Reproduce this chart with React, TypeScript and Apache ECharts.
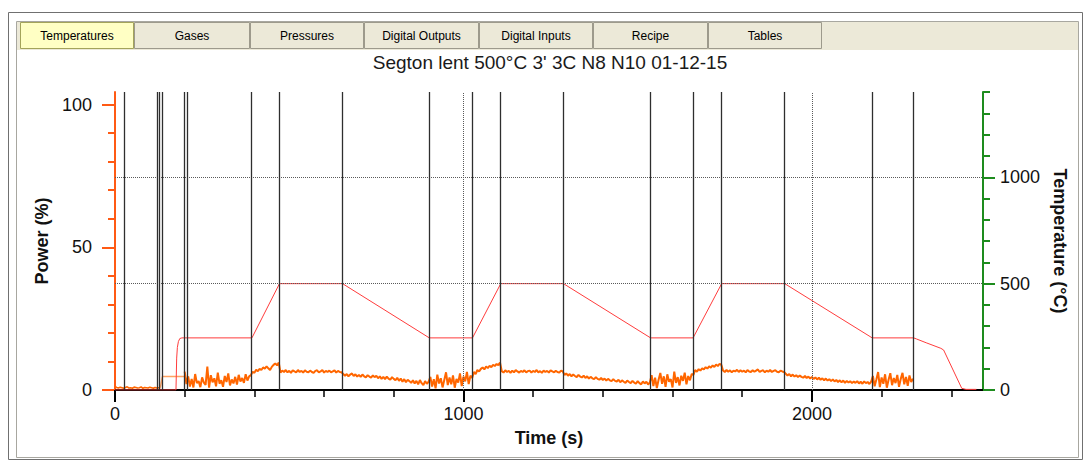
import React, { useEffect, useRef } from 'react';
import * as echarts from 'echarts';

const FONT = 'Liberation Sans, Arial, sans-serif';

const tabNames = ['Temperatures', 'Gases', 'Pressures', 'Digital Outputs', 'Digital Inputs', 'Recipe', 'Tables'];
const tabEdges = [20, 134, 250, 364, 479, 593, 708, 822];
const chartTitle = "Segton lent 500°C 3' 3C N8 N10 01-12-15";

const timeTicks = [0, 1000, 2000];
const powerTicks = [0, 50, 100];
const tempTicks = [0, 500, 1000];
const timeGridLines = [1000, 2000];
const tempGridLines = [500, 1000];

// vertical event markers (s)
const eventTimes = [27, 121, 126, 136, 200, 207, 390, 472, 653, 902, 1026, 1107, 1287, 1537, 1659, 1741, 1922, 2173, 2292];

// temperature (°C)
const tempTimes = [0, 175, 177, 179, 182, 186, 192, 393, 472, 653, 902, 1026, 1107, 1287, 1537, 1659, 1741, 1922, 2173, 2292, 2300, 2328, 2370, 2378, 2430, 2442, 2472];
const tempValues = [0, 0, 150, 200, 228, 242, 245, 245, 500, 500, 245, 245, 500, 500, 245, 245, 500, 500, 245, 245, 240, 222, 196, 188, 8, 3, 3];

// power (%) — start-up stretch
const powerStep = 5;
const powerPre = [1.2, 0.9, 0.7, 1.0, 0.8, 0.6, 0.9, 1.1, 0.7, 0.8, 0.6, 1.0, 0.9, 0.7, 0.8, 1.1, 0.6, 0.9, 0.8, 0.7, 1.0, 0.8, 0.6, 0.9, 0.7, 0.8, 0.8];
const powerPreStart = 0;

// power step (lighter trace)
const stepTimes = [130, 136, 200];
const stepValues = [0.8, 4.7, 4.7];

// power (%) — main record, one array per process phase
const powerStarts = [200, 390, 475, 655, 905, 1030, 1110, 1290, 1540, 1660, 1745, 1925, 2175];
const powerB = [6.4, 2.1, 4.8, 1.2, 3.9, 0.9, 5.6, 2.4, 3.1, 1.0, 4.4, 2.6, 1.8, 8.2, 0.8, 5.2, 2.7, 4.1, 1.3, 6.1, 2.2, 3.4, 1.1, 4.9, 2.8, 5.8, 1.6, 3.7, 2.3, 4.6, 1.9, 5.3, 3.0, 4.2, 2.5, 5.5, 3.3, 4.8];
const powerC = [5.2, 6.4, 6.0, 7.1, 6.6, 7.4, 7.0, 7.9, 7.5, 8.3, 7.6, 7.0, 8.1, 8.8, 9.3, 8.6, 9.6];
const powerD = [6.1, 6.8, 6.3, 7.0, 6.2, 6.7, 6.0, 6.9, 6.5, 6.2, 7.0, 6.3, 6.7, 6.1, 6.9, 6.4, 6.2, 6.8, 6.3, 6.0, 6.7, 6.9, 6.2, 6.5, 7.0, 6.1, 6.7, 6.3, 6.8, 6.2, 6.5, 6.9, 6.1, 6.7, 6.3, 6.2];
const powerE = [5.6, 5.0, 5.6, 4.8, 5.4, 5.8, 4.9, 5.5, 4.7, 5.3, 4.6, 5.4, 4.8, 4.4, 5.2, 4.7, 4.3, 5.1, 4.5, 5.0, 4.1, 4.8, 3.9, 4.6, 3.8, 4.7, 4.0, 3.6, 4.5, 3.9, 3.4, 4.3, 3.2, 4.0, 2.9, 3.8, 2.7, 3.6, 3.1, 2.5, 3.4, 2.3, 3.2, 2.0, 3.5, 2.4, 1.7, 3.1, 2.2, 2.9];
const powerF = [4.6, 1.2, 3.8, 0.6, 5.4, 2.3, 4.1, 0.9, 3.5, 6.2, 1.7, 4.4, 2.0, 5.1, 0.8, 3.9, 2.6, 5.8, 1.4, 4.7, 3.0, 6.3, 2.1, 5.0, 4.2];
const powerG = [6.3, 5.6, 7.0, 6.5, 7.4, 7.9, 7.2, 8.2, 7.7, 8.5, 8.0, 8.8, 8.4, 9.1, 8.7, 9.6];
const powerH = [6.6, 6.1, 6.9, 6.3, 6.7, 6.0, 6.8, 6.2, 7.0, 6.5, 6.1, 6.7, 6.3, 6.9, 6.2, 6.6, 6.8, 6.1, 6.7, 6.3, 7.0, 6.2, 6.6, 6.0, 6.8, 6.3, 6.7, 6.1, 6.9, 6.5, 6.2, 6.7, 6.3, 6.1, 6.8, 6.5];
const powerI = [5.3, 5.8, 5.0, 5.6, 4.8, 5.4, 4.9, 4.5, 5.3, 4.7, 4.4, 5.0, 4.2, 4.8, 4.0, 4.6, 4.1, 3.8, 4.5, 3.9, 3.6, 4.2, 3.5, 4.0, 3.3, 3.9, 3.4, 3.1, 3.8, 3.2, 3.0, 3.6, 2.7, 3.4, 2.9, 2.5, 3.3, 2.8, 2.4, 3.2, 2.6, 2.2, 3.1, 2.4, 2.0, 3.0, 2.3, 2.9, 1.9, 2.7];
const powerJ = [5.2, 1.4, 4.3, 0.7, 3.6, 6.0, 2.2, 4.8, 1.1, 5.5, 2.9, 3.8, 0.9, 6.4, 2.5, 4.5, 1.6, 5.0, 3.2, 6.1, 2.0, 4.9, 3.4, 5.6];
const powerK = [5.3, 7.0, 6.4, 7.3, 6.8, 7.6, 7.2, 8.0, 7.5, 8.3, 7.8, 8.6, 8.1, 8.9, 8.4, 9.2, 8.8];
const powerL = [6.8, 6.3, 7.0, 6.4, 6.9, 6.2, 6.8, 6.5, 7.1, 6.3, 6.9, 6.4, 6.8, 6.2, 7.0, 6.5, 6.3, 6.9, 6.4, 6.8, 7.2, 6.3, 6.7, 6.9, 6.2, 6.8, 6.4, 7.0, 6.3, 6.7, 6.9, 6.4, 6.2, 6.8, 6.5, 6.3];
const powerM = [5.7, 5.1, 5.6, 4.8, 5.4, 4.7, 5.2, 4.5, 5.1, 4.6, 4.3, 4.9, 4.2, 4.7, 4.0, 4.6, 3.9, 4.4, 3.7, 4.3, 3.6, 4.1, 3.4, 4.0, 3.3, 3.8, 3.1, 3.7, 3.0, 3.5, 2.8, 3.4, 2.7, 3.3, 2.5, 3.2, 2.6, 3.1, 2.4, 3.0, 2.5, 3.1, 2.3, 2.9, 2.2, 3.0, 2.4, 2.8, 2.1, 2.9];
const powerN = [4.9, 1.3, 3.7, 6.3, 1.0, 4.4, 2.2, 5.5, 0.8, 3.6, 5.9, 1.7, 4.2, 2.4, 5.3, 1.1, 3.9, 6.0, 2.0, 4.6, 1.5, 5.1, 2.8, 4.0];
const powerPhases = [powerB, powerC, powerD, powerE, powerF, powerG, powerH, powerI, powerJ, powerK, powerL, powerM, powerN];

const TIME_MAX = 2491;
const POWER_MAX = 104.4;
const TEMP_MAX = 1401;

const plainNumber = (v: number) => String(v);

function buildOption() {
  const tempData = tempTimes.map((t, i) => [t, tempValues[i]]);
  const preData = powerPre.map((v, i) => [powerPreStart + i * powerStep, v]);
  const stepData = stepTimes.map((t, i) => [t, stepValues[i]]);
  const powerData: number[][] = [];
  powerPhases.forEach((phase, p) => {
    phase.forEach((v, i) => powerData.push([powerStarts[p] + i * powerStep, v]));
  });

  const dotted = { color: '#5a5a5a', width: 1, type: 'dotted' as const };
  const markData: any[] = [
    ...timeGridLines.map((t) => ({ xAxis: t, lineStyle: dotted })),
    ...tempGridLines.map((v) => ({ yAxis: v, lineStyle: dotted })),
    ...eventTimes.map((t) => ({ xAxis: t, lineStyle: { color: '#2e2e2e', width: 1.3, type: 'solid' } })),
  ];

  const graphics: any[] = [
    { type: 'rect', z: -20, silent: true, shape: { x: 8.5, y: 12.5, width: 1074, height: 447 }, style: { fill: '#ffffff', stroke: '#707070', lineWidth: 1 } },
    { type: 'rect', z: -19, silent: true, shape: { x: 16.5, y: 21.5, width: 1062, height: 436 }, style: { fill: '#ffffff', stroke: '#a8a7a0', lineWidth: 1 } },
    { type: 'rect', z: -18, silent: true, shape: { x: 17, y: 22, width: 1061, height: 28 }, style: { fill: '#ece9d8' } },
  ];
  tabNames.forEach((name, i) => {
    const x0 = tabEdges[i];
    const x1 = tabEdges[i + 1];
    const active = i === 0;
    graphics.push({
      type: 'rect', z: -17, silent: true,
      shape: { x: x0 + 0.5, y: 22.5, width: x1 - x0 - 1, height: 26 },
      style: { fill: active ? '#ffffc4' : '#ece9d8', stroke: active ? '#a3a35a' : '#9d9a8c', lineWidth: 1 },
    });
    graphics.push({
      type: 'text', z: -16, silent: true,
      x: (x0 + x1) / 2, y: 36,
      style: { text: name, fontSize: 12, fontFamily: FONT, fill: '#000', align: 'center', verticalAlign: 'middle' },
    });
  });
  graphics.push({
    type: 'text', z: 5, silent: true, x: 550, y: 62,
    style: { text: chartTitle, fontSize: 19, fontFamily: FONT, fill: '#1a1a1a', align: 'center', verticalAlign: 'middle' },
  });

  return {
    animation: false,
    backgroundColor: '#ffffff',
    graphic: { elements: graphics },
    grid: { left: 115, right: 104, top: 92, bottom: 73, containLabel: false },
    xAxis: {
      type: 'value', min: 0, max: TIME_MAX, interval: 1000,
      name: 'Time (s)', nameLocation: 'middle', nameGap: 39,
      nameTextStyle: { fontSize: 18, fontWeight: 'bold', color: '#111', fontFamily: FONT },
      axisLine: { show: true, onZero: false, lineStyle: { color: '#000', width: 2 } },
      axisTick: { show: true, length: 12, customValues: timeTicks, lineStyle: { color: '#000', width: 2 } },
      minorTick: { show: true, splitNumber: 5, length: 7, lineStyle: { color: '#000', width: 1.5 } },
      axisLabel: { customValues: timeTicks, formatter: plainNumber, fontSize: 18, color: '#111', margin: 15, fontFamily: FONT },
      splitLine: { show: false },
    },
    yAxis: [
      {
        type: 'value', position: 'left', min: 0, max: POWER_MAX, interval: 50,
        name: 'Power (%)', nameLocation: 'middle', nameGap: 58,
        nameTextStyle: { fontSize: 18, fontWeight: 'bold', color: '#111', fontFamily: FONT },
        axisLine: { show: true, onZero: false, lineStyle: { color: '#ff5a14', width: 2 } },
        axisTick: { show: true, length: 13, customValues: powerTicks, lineStyle: { color: '#ff5a14', width: 2 } },
        minorTick: { show: true, splitNumber: 5, length: 7, lineStyle: { color: '#ff5a14', width: 2 } },
        axisLabel: { customValues: powerTicks, formatter: plainNumber, fontSize: 18, color: '#111', margin: 23, fontFamily: FONT },
        splitLine: { show: false },
      },
      {
        type: 'value', position: 'right', min: 0, max: TEMP_MAX, interval: 500,
        name: 'Temperature (°C)', nameLocation: 'middle', nameGap: 64, nameRotate: -90,
        nameTextStyle: { fontSize: 18, fontWeight: 'bold', color: '#111', fontFamily: FONT },
        axisLine: { show: true, onZero: false, lineStyle: { color: '#1e8c1e', width: 2 } },
        axisTick: { show: true, length: 12, customValues: tempTicks, lineStyle: { color: '#1e8c1e', width: 2 } },
        minorTick: { show: true, splitNumber: 5, length: 7, lineStyle: { color: '#1e8c1e', width: 2 } },
        axisLabel: { customValues: tempTicks, formatter: plainNumber, fontSize: 18, color: '#111', margin: 17, fontFamily: FONT },
        splitLine: { show: false },
      },
    ],
    series: [
      {
        name: 'Power', type: 'line', yAxisIndex: 0, data: powerData, showSymbol: false, z: 2,
        lineStyle: { color: '#ff6600', width: 2 }, itemStyle: { color: '#ff6600' },
      },
      {
        name: 'Power start', type: 'line', yAxisIndex: 0, data: preData, showSymbol: false, z: 2,
        lineStyle: { color: '#ff6600', width: 1.6 }, itemStyle: { color: '#ff6600' },
      },
      {
        name: 'Power step', type: 'line', yAxisIndex: 0, data: stepData, showSymbol: false, z: 2,
        lineStyle: { color: '#ffa262', width: 1.5 }, itemStyle: { color: '#ffa262' },
      },
      {
        name: 'Temperature', type: 'line', yAxisIndex: 1, data: tempData, showSymbol: false, z: 3,
        lineStyle: { color: '#ff3c3c', width: 1 }, itemStyle: { color: '#ff3c3c' },
        markLine: {
          silent: true, symbol: ['none', 'none'], label: { show: false }, animation: false,
          emphasis: { disabled: true },
          data: markData,
        },
      },
    ],
  };
}

export default function App() {
  const ref = useRef<HTMLDivElement>(null);
  useEffect(() => {
    if (!ref.current) return;
    const chart = echarts.init(ref.current, undefined, { renderer: 'svg' });
    chart.setOption(buildOption() as any);
    return () => chart.dispose();
  }, []);
  return (
    <div
      ref={ref}
      style={{ position: 'absolute', left: 0, top: 0, width: 1087, height: 463, background: '#fff' }}
    />
  );
}
